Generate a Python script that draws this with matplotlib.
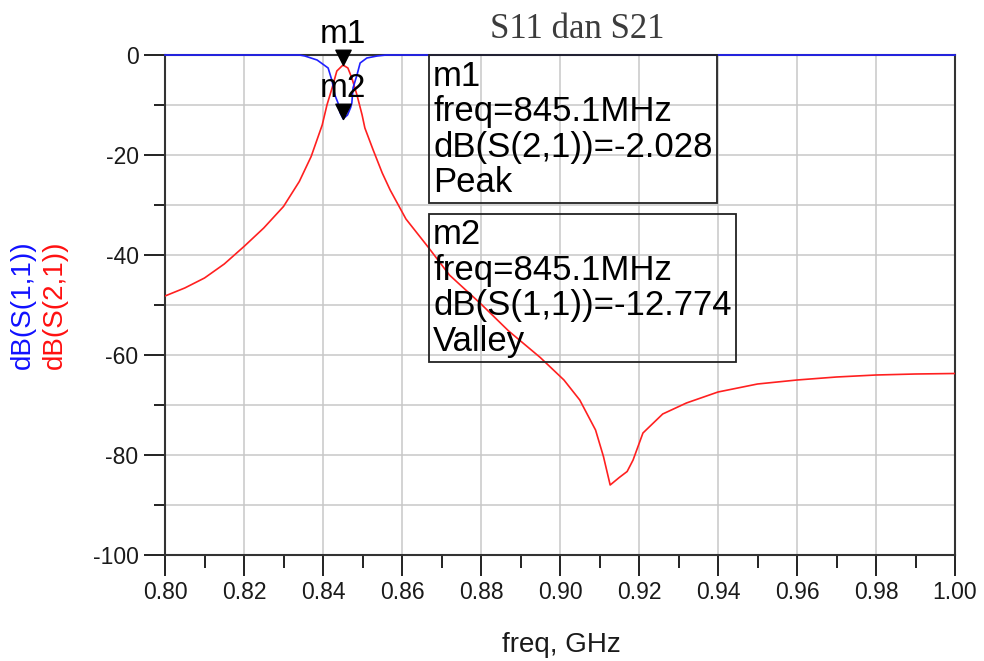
import numpy as np
import matplotlib
matplotlib.use("Agg")
import matplotlib.pyplot as plt
from matplotlib.path import Path
from matplotlib.ticker import MultipleLocator

plt.rcParams['font.family'] = ['Liberation Sans', 'DejaVu Sans']

# --- S21 (transmission) sweep, GHz / dB ---
s21_freq = [0.800, 0.805, 0.810, 0.815, 0.820, 0.825, 0.830, 0.834, 0.837,
            0.8398, 0.8410, 0.8423, 0.8435, 0.8448, 0.8451, 0.8463, 0.8473,
            0.8486, 0.8499, 0.8506, 0.8527, 0.855, 0.857, 0.861, 0.8666,
            0.872, 0.880, 0.887, 0.895, 0.901, 0.905, 0.909, 0.911, 0.9127,
            0.915, 0.917, 0.9185, 0.921, 0.926, 0.932, 0.940, 0.950, 0.960,
            0.970, 0.980, 0.990, 1.000]
s21_db = [-48.2, -46.6, -44.6, -41.8, -38.3, -34.6, -30.3, -25.3, -20.3,
          -14.0, -10.0, -6.6, -3.2, -2.2, -2.028, -2.6, -4.6,
          -8.0, -12.0, -14.6, -19.0, -23.6, -27.0, -32.8, -38.4,
          -44.0, -49.8, -55.2, -60.5, -65.0, -69.0, -75.0, -80.3, -86.0,
          -84.5, -83.3, -81.0, -75.6, -71.8, -69.6, -67.4, -65.8, -65.0,
          -64.4, -64.0, -63.8, -63.7]

# --- S11 (reflection) sweep ---
s11_freq = [0.800, 0.8340, 0.8354, 0.8385, 0.8413, 0.8423, 0.8430, 0.8438,
            0.8443, 0.8451, 0.8462, 0.8470, 0.8473, 0.8476, 0.8486, 0.8494,
            0.8511, 0.8537, 0.856, 1.000]
s11_db = [0.0, 0.0, -0.2, -1.0, -2.6, -5.2, -8.0, -9.6,
          -11.5, -12.774, -12.0, -10.5, -9.6, -6.6, -4.0, -1.6,
          -0.6, -0.2, 0.0, 0.0]

# marker readouts
m1_freq, m1_db = 0.8451, -2.028
m2_freq, m2_db = 0.8451, -12.774
m1_text = "m1\nfreq=845.1MHz\ndB(S(2,1))=-2.028\nPeak"
m2_text = "m2\nfreq=845.1MHz\ndB(S(1,1))=-12.774\nValley"

fig = plt.figure(figsize=(9.84, 6.61), dpi=100)
ax = fig.add_axes([165 / 984, 106 / 661, 790 / 984, 500 / 661])

ax.plot(s21_freq, s21_db, color='#ff2020', lw=1.2, zorder=3)
ax.plot(s11_freq, s11_db, color='#2020ff', lw=1.2, zorder=3, clip_on=False)

ax.set_xlim(0.80, 1.00)
ax.set_ylim(-100, 0)
ax.xaxis.set_major_locator(MultipleLocator(0.02))
ax.xaxis.set_minor_locator(MultipleLocator(0.01))
ax.yaxis.set_major_locator(MultipleLocator(20))
ax.yaxis.set_minor_locator(MultipleLocator(10))
ax.xaxis.set_major_formatter(lambda v, p: f"{v:.2f}")
ax.yaxis.set_major_formatter(lambda v, p: f"{v:.0f}")

ax.grid(which='major', axis='x', color='#c8c8c8', lw=1.1)
ax.grid(which='both', axis='y', color='#c8c8c8', lw=1.1)
ax.set_axisbelow(True)

ax.tick_params(which='major', direction='out', length=15, width=1.4,
               color='#222222', labelsize=16.5, labelcolor='#1a1a1a', pad=4)
ax.tick_params(which='minor', direction='out', length=8, width=1.4,
               color='#222222')
ax.tick_params(axis='x', which='minor', length=9)
for sp in ax.spines.values():
    sp.set_color('#333333')
    sp.set_linewidth(1.5)

# downward triangles with the tip sitting on the data point
tip = Path([(-0.5, 1.0), (0.5, 1.0), (0.0, 0.0), (-0.5, 1.0)],
           [Path.MOVETO, Path.LINETO, Path.LINETO, Path.CLOSEPOLY])
for f, v, name in [(m1_freq, m1_db, 'm1'), (m2_freq, m2_db, 'm2')]:
    ax.plot([f], [v], marker=tip, ms=22, color='black', zorder=5, clip_on=False)
    ax.annotate(name, (f, v), xytext=(0, 22), textcoords='offset points',
                ha='center', va='center', fontsize=24, zorder=6,
                annotation_clip=False)

box = dict(boxstyle='square,pad=0.12', fc='none', ec='#222222', lw=1.3)
ax.text(0.8679, -0.9, m1_text, ha='left', va='top', fontsize=25,
        linespacing=1.1, bbox=box, zorder=6)
ax.text(0.8679, -32.6, m2_text, ha='left', va='top', fontsize=25,
        linespacing=1.1, bbox=box, zorder=6)

fig.text(577 / 984, 1 - 30 / 661, "S11 dan S21", ha='center', va='center',
         fontsize=25, family='Liberation Serif', color='#3c3c3c')
fig.text(23 / 984, 1 - 305 / 661, "dB(S(1,1))", rotation=90, ha='center',
         va='center', fontsize=20, color='#1010ff')
fig.text(55 / 984, 1 - 305 / 661, "dB(S(2,1))", rotation=90, ha='center',
         va='center', fontsize=20, color='#ff1010')
fig.text(561 / 984, 1 - 645 / 661, "freq, GHz", ha='center', va='center',
         fontsize=20, color='#1a1a1a')

fig.savefig("out.png", dpi=100)
